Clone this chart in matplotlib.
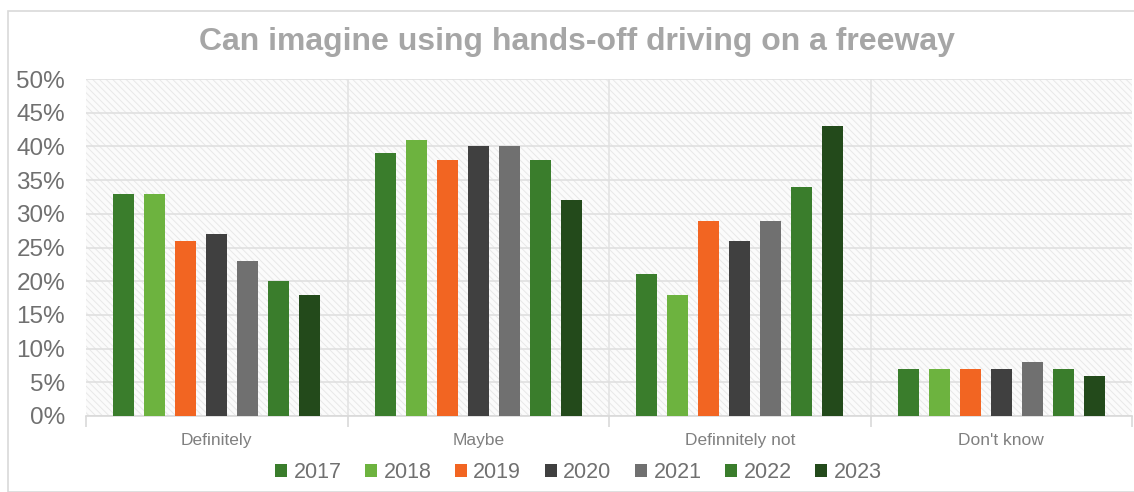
import numpy as np
import matplotlib
matplotlib.use("Agg")
from matplotlib import pyplot as plt
from matplotlib.patches import Rectangle
from matplotlib.ticker import MultipleLocator, FuncFormatter

categories = ["Definitely", "Maybe", "Definitely not", "Don't know"]
years = ["2017", "2018", "2019", "2020", "2021", "2022", "2023"]
# share of respondents (%) per year, in category order
values = {
    "2017": [33, 39, 21, 7],
    "2018": [33, 41, 18, 7],
    "2019": [26, 38, 29, 7],
    "2020": [27, 40, 26, 7],
    "2021": [23, 40, 29, 8],
    "2022": [20, 38, 34, 7],
    "2023": [18, 32, 43, 6],
}
tick_labels = ["Definitely", "Maybe", "Definnitely not", "Don't know"]
colors = ["#3a7d2c", "#6db33f", "#f26522", "#404040", "#707070", "#3a7d2c", "#234a1b"]

plt.rcParams['font.family'] = ['Liberation Sans', 'DejaVu Sans']
plt.rcParams['hatch.linewidth'] = 0.7

fig = plt.figure(figsize=(11.34, 4.92), dpi=100)
# outer chart frame
fig.patches.append(Rectangle((8/1134, 0.0), 1.1, 1 - 11/492, transform=fig.transFigure,
                             fill=False, edgecolor='#d9d9d9', linewidth=1.2))

ax = fig.add_axes([86/1134, 1 - 416/492, 1046/1134, 337/492])
x = np.arange(len(categories))
step = 31/261.5
width = 21/261.5

# hatched plot background
ax.add_patch(Rectangle((0, 0), 1, 1, transform=ax.transAxes, facecolor='#fbfbfb',
                       hatch='\\' * 5, edgecolor='#e8e8e8', linewidth=0, zorder=0))

for i, yr in enumerate(years):
    ax.bar(x + (i - 3) * step, values[yr], width, color=colors[i], label=yr, zorder=3)

ax.set_xlim(-0.5, 3.5)
ax.set_ylim(0, 50)
ax.yaxis.set_major_locator(MultipleLocator(5))
ax.yaxis.set_major_formatter(FuncFormatter(lambda v, p: f"{v:.0f}%"))
ax.grid(axis='y', color='#e0e0e0', linewidth=1.2, zorder=1)
for b in [0.5, 1.5, 2.5]:
    ax.axvline(b, color='#e3e3e3', linewidth=1.2, zorder=1)

ax.set_xticks(x)
ax.set_xticklabels(tick_labels, fontsize=12.5, color='#808080')
ax.set_xticks([-0.5, 0.5, 1.5, 2.5, 3.5], minor=True)
ax.tick_params(axis='x', which='major', length=0, pad=12)
ax.tick_params(axis='x', which='minor', length=8, color='#d9d9d9', width=1.2)
ax.tick_params(axis='y', length=0, labelsize=17.5, labelcolor='#707070', pad=15)

for s in ['top', 'right', 'left']:
    ax.spines[s].set_visible(False)
ax.spines['bottom'].set_color('#d9d9d9')
ax.spines['bottom'].set_linewidth(1.2)

fig.text(0.509, 1 - 42/492, "Can imagine using hands-off driving on a freeway",
         ha='center', va='center', fontsize=23, fontweight='bold', color='#a6a6a6')

fig.legend(loc='center', bbox_to_anchor=(0.51, 1 - 473/492), ncol=7, frameon=False,
           fontsize=15.5, labelcolor='#707070', handlelength=0.55, handleheight=0.55,
           handletextpad=0.3, columnspacing=1.1, borderaxespad=0)

fig.savefig("out.png", dpi=100)
